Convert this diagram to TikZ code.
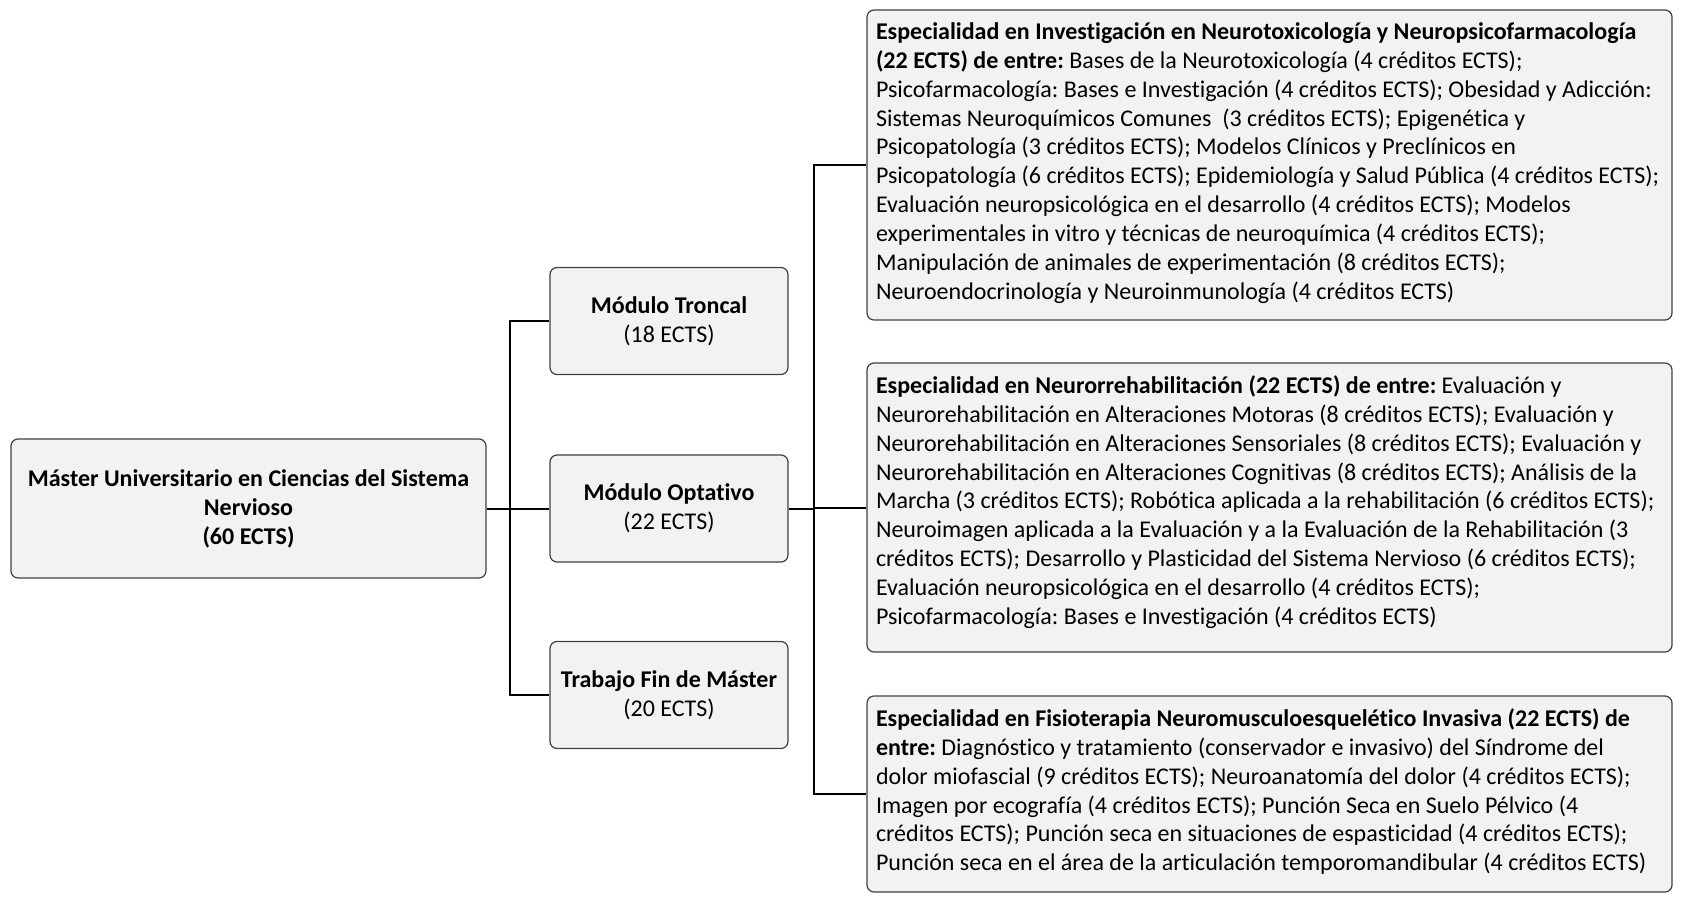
\documentclass[tikz,border=0pt]{standalone}
\usepackage{fontspec}
\setmainfont{Carlito}[Ligatures={NoCommon}]
\frenchspacing
\definecolor{boxfill}{HTML}{F2F2F2}
\definecolor{boxline}{HTML}{404040}
\newcommand{\spbox}[2]{\begin{minipage}[t][#1][t]{787pt}\raggedright\frenchspacing\vspace*{12.5pt}#2\end{minipage}}
\begin{document}
\begin{tikzpicture}[x=1pt,y=-1pt,
  every node/.style={font=\fontsize{24}{28.9}\selectfont},
  boxbase/.style={draw=boxline,line width=1.2pt,fill=boxfill,rounded corners=7pt},
  modbox/.style={boxbase,minimum width=238pt,minimum height=107pt,inner sep=2pt,align=center},
  rootbox/.style={boxbase,minimum width=475pt,minimum height=139pt,inner sep=2pt,align=center},
  spec/.style={boxbase,inner xsep=9pt,inner ysep=0pt},
  conn/.style={draw=black,line width=2pt}]
\useasboundingbox (0,0) rectangle (1689,904);

\node[rootbox] (root) at (248.5,508.5) {\textbf{Máster Universitario en Ciencias del Sistema}\\\textbf{Nervioso}\\\textbf{(60 ECTS)}};

\node[modbox] (trc) at (669,321) {\textbf{Módulo Troncal}\\(18 ECTS)};
\node[modbox] (opt) at (669,508.5) {\textbf{Módulo Optativo}\\(22 ECTS)};
\node[modbox] (tfm) at (669,695) {\textbf{Trabajo Fin de Máster}\\(20 ECTS)};

\node[spec] (e1) at (1269.5,165) {\spbox{310pt}{%
\textbf{Especialidad en Investigación en Neurotoxicología y Neuropsicofarmacología}\\
\textbf{(22 ECTS) de entre:} Bases de la Neurotoxicología (4 créditos ECTS);\\
Psicofarmacología: Bases e Investigación (4 créditos ECTS); Obesidad y Adicción:\\
Sistemas Neuroquímicos Comunes~ (3 créditos ECTS); Epigenética y\\
Psicopatología (3 créditos ECTS); Modelos Clínicos y Preclínicos en\\
Psicopatología (6 créditos ECTS); Epidemiología y Salud Pública (4 créditos ECTS);\\
Evaluación neuropsicológica en el desarrollo (4 créditos ECTS); Modelos\\
experimentales in vitro y técnicas de neuroquímica (4 créditos ECTS);\\
Manipulación de animales de experimentación (8 créditos ECTS);\\
Neuroendocrinología y Neuroinmunología (4 créditos ECTS)}};

\node[spec] (e2) at (1269.5,507.5) {\spbox{289pt}{%
\textbf{Especialidad en Neurorrehabilitación (22 ECTS) de entre:} Evaluación y\\
Neurorehabilitación en Alteraciones Motoras (8 créditos ECTS); Evaluación y\\
Neurorehabilitación en Alteraciones Sensoriales (8 créditos ECTS); Evaluación y\\
Neurorehabilitación en Alteraciones Cognitivas (8 créditos ECTS); Análisis de la\\
Marcha (3 créditos ECTS); Robótica aplicada a la rehabilitación (6 créditos ECTS);\\
Neuroimagen aplicada a la Evaluación y a la Evaluación de la Rehabilitación (3\\
créditos ECTS); Desarrollo y Plasticidad del Sistema Nervioso (6 créditos ECTS);\\
Evaluación neuropsicológica en el desarrollo (4 créditos ECTS);\\
Psicofarmacología: Bases e Investigación (4 créditos ECTS)}};

\node[spec] (e3) at (1269.5,794) {\spbox{196pt}{%
\textbf{Especialidad en Fisioterapia Neuromusculoesquelético Invasiva (22 ECTS) de}\\
\textbf{entre:} Diagnóstico y tratamiento (conservador e invasivo) del Síndrome del\\
dolor miofascial (9 créditos ECTS); Neuroanatomía del dolor (4 créditos ECTS);\\
Imagen por ecografía (4 créditos ECTS); Punción Seca en Suelo Pélvico (4\\
créditos ECTS); Punción seca en situaciones de espasticidad (4 créditos ECTS);\\
Punción seca en el área de la articulación temporomandibular (4 créditos ECTS)}};

\coordinate (j1) at (510,508.5);
\coordinate (j2) at (814,508.5);
\draw[conn] (root.east) -- (j1);
\draw[conn] (j1) |- (trc.west);
\draw[conn] (j1) |- (tfm.west);
\draw[conn] (j1) |- (opt.west);
\draw[conn] (opt.east) -- (j2);
\draw[conn] (j2) |- (e1.west);
\draw[conn] (j2) |- (e3.west);
\draw[conn] (j2) |- (e2.west);
\end{tikzpicture}
\end{document}
